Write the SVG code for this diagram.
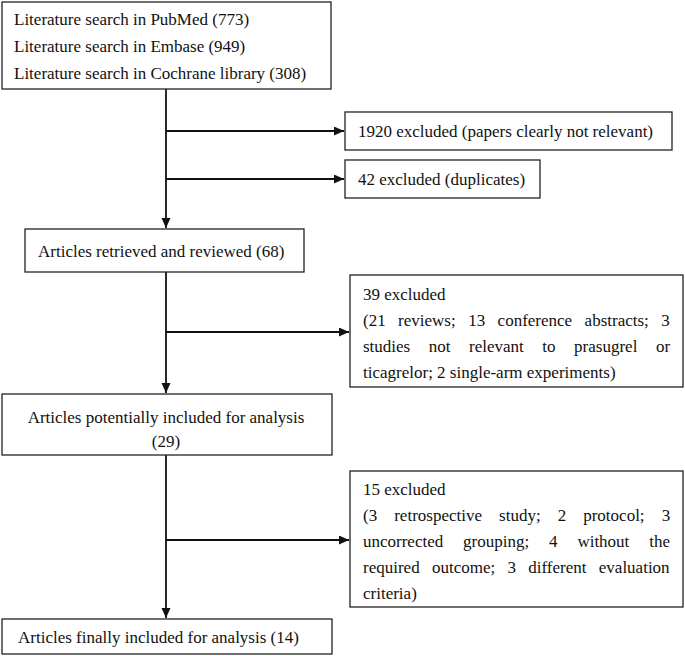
<svg xmlns="http://www.w3.org/2000/svg" width="685" height="656" viewBox="0 0 685 656">
<style>
  .box { fill: #ffffff; stroke: #222222; stroke-width: 1.3; }
  .t { font-family: "Liberation Serif", "Times New Roman", serif; font-size: 17px; fill: #111111; }
  .c { text-anchor: middle; }
  .ln { fill: none; stroke: #111111; stroke-width: 1.8; }
</style>
<defs>
  <marker id="ah" markerUnits="userSpaceOnUse" markerWidth="11" markerHeight="10" refX="10" refY="4.5" orient="auto">
    <path d="M0,0 L10,4.5 L0,9 z" fill="#111111"/>
  </marker>
</defs>
<rect width="685" height="656" fill="#ffffff"/>

<g id="connectors">
  <line class="ln" x1="166" y1="89" x2="166" y2="228" marker-end="url(#ah)"/>
  <line class="ln" x1="166" y1="131" x2="344" y2="131" marker-end="url(#ah)"/>
  <line class="ln" x1="166" y1="179" x2="344" y2="179" marker-end="url(#ah)"/>
  <line class="ln" x1="166" y1="272" x2="166" y2="393" marker-end="url(#ah)"/>
  <line class="ln" x1="166" y1="332" x2="349" y2="332" marker-end="url(#ah)"/>
  <line class="ln" x1="166" y1="455" x2="166" y2="618" marker-end="url(#ah)"/>
  <line class="ln" x1="166" y1="540" x2="349" y2="540" marker-end="url(#ah)"/>
</g>

<g id="search">
  <rect class="box" x="2" y="2" width="329" height="87"/>
  <text class="t" x="14" y="25">Literature search in PubMed (773)</text>
  <text class="t" x="14" y="52">Literature search in Embase (949)</text>
  <text class="t" x="14" y="79">Literature search in Cochrane library (308)</text>
</g>

<g id="excl1920">
  <rect class="box" x="345" y="112" width="327" height="38"/>
  <text class="t" x="358" y="137">1920 excluded (papers clearly not relevant)</text>
</g>

<g id="excl42">
  <rect class="box" x="345" y="160" width="195" height="38"/>
  <text class="t" x="358" y="185">42 excluded (duplicates)</text>
</g>

<g id="retrieved">
  <rect class="box" x="25" y="229" width="279" height="43"/>
  <text class="t" x="38" y="257">Articles retrieved and reviewed (68)</text>
</g>

<g id="excl39">
  <rect class="box" x="350" y="275" width="333" height="112"/>
  <text class="t" x="363" y="300">39 excluded</text>
  <text class="t" x="363" y="326" word-spacing="8.2">(21 reviews; 13 conference abstracts; 3</text>
  <text class="t" x="363" y="352" word-spacing="14.3">studies not relevant to prasugrel or</text>
  <text class="t" x="363" y="378">ticagrelor; 2 single-arm experiments)</text>
</g>

<g id="potential">
  <rect class="box" x="2" y="394" width="330" height="61"/>
  <text class="t c" x="166" y="423">Articles potentially included for analysis</text>
  <text class="t c" x="166" y="447">(29)</text>
</g>

<g id="excl15">
  <rect class="box" x="350" y="471" width="333" height="136"/>
  <text class="t" x="363" y="495">15 excluded</text>
  <text class="t" x="363" y="521" word-spacing="12.8">(3 retrospective study; 2 protocol; 3</text>
  <text class="t" x="363" y="547" word-spacing="15.6">uncorrected grouping; 4 without the</text>
  <text class="t" x="363" y="573" word-spacing="8.05">required outcome; 3 different evaluation</text>
  <text class="t" x="363" y="599">criteria)</text>
</g>

<g id="final">
  <rect class="box" x="2" y="619" width="330" height="35"/>
  <text class="t" x="18" y="643">Articles finally included for analysis (14)</text>
</g>
</svg>
